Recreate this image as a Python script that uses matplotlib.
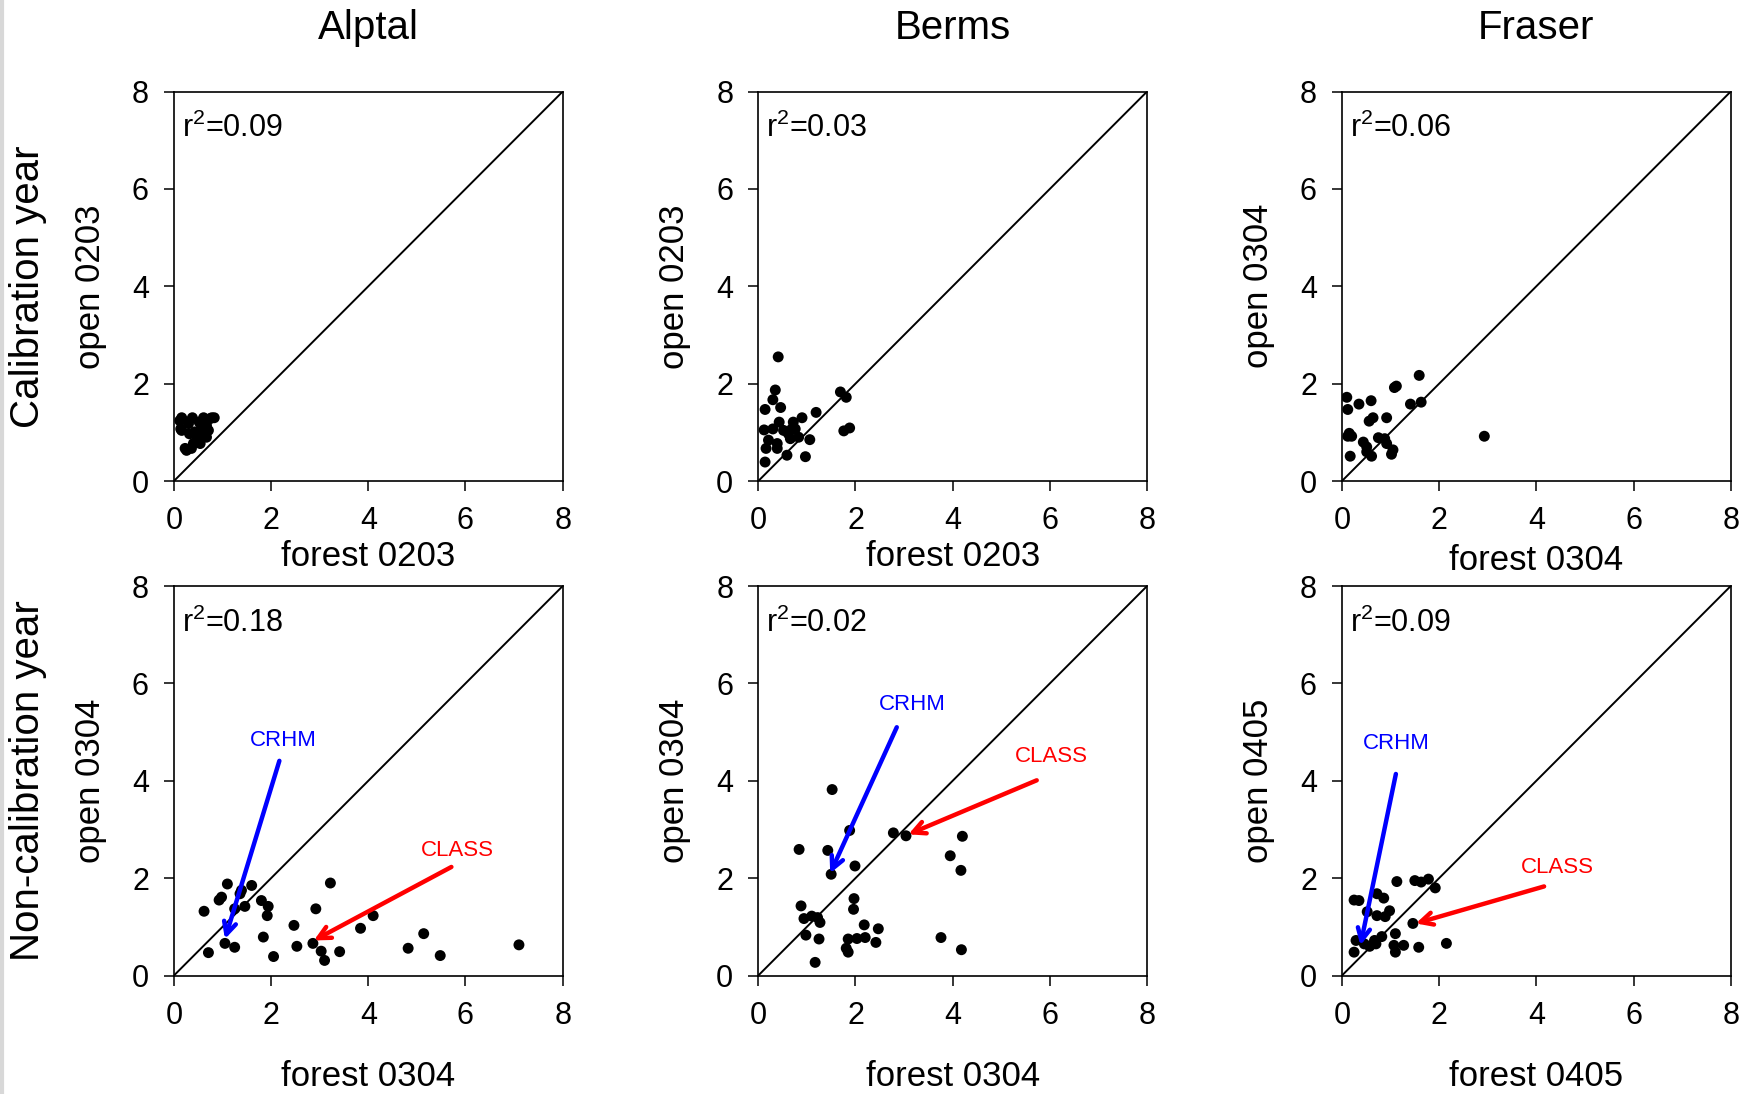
import matplotlib.pyplot as plt
from matplotlib.lines import Line2D

plt.rcParams['font.family'] = ['Liberation Sans', 'DejaVu Sans']
plt.rcParams['mathtext.default'] = 'regular'

sites = ["Alptal", "Berms", "Fraser"]
row_names = ["Calibration year", "Non-calibration year"]
ticks = [0, 2, 4, 6, 8]

# forest (x) / open (y) pairs, one list per panel
alp_cal_x = [0.16, 0.38, 0.61, 0.78, 0.16, 0.26, 0.36, 0.54, 0.67, 0.71, 0.43, 0.57,
             0.74, 0.83, 0.52, 0.30, 0.12, 0.14, 0.32, 0.47, 0.59, 0.40, 0.23, 0.67]
alp_cal_y = [1.30, 1.30, 1.30, 1.30, 1.04, 0.63, 0.67, 0.77, 0.90, 1.04, 1.01, 1.11,
             1.28, 1.30, 1.21, 1.18, 1.24, 1.07, 0.97, 0.87, 0.92, 0.77, 0.67, 1.14]

ber_cal_x = [0.41, 0.35, 0.30, 0.46, 0.14, 1.19, 1.69, 1.81, 1.76, 1.88, 0.12, 0.30,
             0.43, 0.72, 0.90, 0.62, 0.76, 0.83, 0.66, 1.06, 0.21, 0.39, 0.16, 0.39,
             0.59, 0.97, 0.14, 0.52, 0.69]
ber_cal_y = [2.55, 1.87, 1.67, 1.51, 1.47, 1.41, 1.83, 1.72, 1.03, 1.09, 1.05, 1.07,
             1.21, 1.21, 1.30, 0.97, 1.07, 0.90, 0.87, 0.85, 0.84, 0.77, 0.67, 0.67,
             0.53, 0.50, 0.39, 1.04, 1.07]

fra_cal_x = [1.59, 1.08, 1.12, 0.10, 0.35, 0.60, 0.12, 1.41, 1.63, 0.64, 0.56, 0.92,
             0.15, 0.20, 0.12, 2.93, 0.44, 0.75, 0.88, 0.92, 0.51, 1.05, 1.02, 0.61,
             0.17, 0.51]
fra_cal_y = [2.17, 1.92, 1.95, 1.72, 1.58, 1.65, 1.47, 1.58, 1.62, 1.30, 1.23, 1.30,
             0.98, 0.92, 0.92, 0.92, 0.80, 0.89, 0.87, 0.77, 0.70, 0.64, 0.55, 0.51,
             0.51, 0.60]

alp_non_x = [1.10, 1.60, 0.98, 0.93, 1.39, 1.36, 0.62, 1.25, 1.46, 1.80, 1.94, 1.92,
             3.22, 2.92, 4.10, 2.47, 3.84, 5.14, 1.84, 1.05, 1.25, 0.71, 2.53, 2.86,
             3.03, 3.10, 2.05, 3.41, 4.82, 5.48, 7.10]
alp_non_y = [1.88, 1.85, 1.61, 1.55, 1.75, 1.68, 1.32, 1.37, 1.42, 1.54, 1.42, 1.23,
             1.90, 1.37, 1.23, 1.03, 0.97, 0.86, 0.79, 0.66, 0.58, 0.47, 0.60, 0.66,
             0.50, 0.31, 0.39, 0.49, 0.56, 0.41, 0.63]

ber_non_x = [1.52, 1.88, 2.78, 3.04, 4.20, 0.84, 1.43, 3.95, 1.99, 4.17, 1.50, 1.97,
             1.96, 0.88, 0.94, 1.10, 1.22, 1.27, 2.18, 2.47, 0.98, 1.25, 1.85, 2.03,
             2.20, 2.42, 3.76, 1.81, 1.85, 4.18, 1.17]
ber_non_y = [3.82, 2.98, 2.93, 2.87, 2.86, 2.59, 2.57, 2.46, 2.25, 2.16, 2.08, 1.58,
             1.36, 1.43, 1.17, 1.22, 1.19, 1.09, 1.04, 0.96, 0.83, 0.75, 0.75, 0.76,
             0.78, 0.68, 0.78, 0.56, 0.48, 0.53, 0.27]

fra_non_x = [1.13, 1.50, 1.63, 1.78, 1.92, 0.25, 0.35, 0.72, 0.86, 0.52, 0.72, 0.89,
             0.98, 1.46, 1.10, 0.82, 0.29, 0.67, 0.57, 0.70, 1.07, 1.27, 1.10, 1.58,
             2.15, 0.25, 0.46]
fra_non_y = [1.93, 1.95, 1.92, 1.98, 1.80, 1.55, 1.54, 1.68, 1.59, 1.31, 1.23, 1.21,
             1.33, 1.07, 0.86, 0.80, 0.72, 0.72, 0.60, 0.65, 0.62, 0.62, 0.48, 0.58,
             0.66, 0.48, 0.65]

panel_x = [[alp_cal_x, ber_cal_x, fra_cal_x], [alp_non_x, ber_non_x, fra_non_x]]
panel_y = [[alp_cal_y, ber_cal_y, fra_cal_y], [alp_non_y, ber_non_y, fra_non_y]]
r2 = [["0.09", "0.03", "0.06"], ["0.18", "0.02", "0.09"]]
xlabels = [["forest 0203", "forest 0203", "forest 0304"],
           ["forest 0304", "forest 0304", "forest 0405"]]
ylabels = [["open 0203", "open 0203", "open 0304"],
           ["open 0304", "open 0304", "open 0405"]]

# model arrows on the lower row: (label pos, tail, tip)
crhm = [((2.26, 4.82), (2.17, 4.41), (1.05, 0.75)),
        ((3.16, 5.56), (2.85, 5.10), (1.48, 2.10)),
        ((1.11, 4.77), (1.11, 4.14), (0.38, 0.62))]
klass = [((5.84, 2.57), (5.71, 2.23), (2.88, 0.72)),
         ((6.04, 4.50), (5.73, 4.01), (3.09, 2.90)),
         ((4.43, 2.21), (4.16, 1.83), (1.52, 1.07))]

fig = plt.figure(figsize=(17.48, 10.94), dpi=100)

lefts = [0.0995, 0.4338, 0.7677]
bottoms = [0.5603, 0.1083]
w, h = 0.2224, 0.3560
xlab_off = [[-0.195, -0.195, -0.205], [-0.2585, -0.2585, -0.2585]]

for r in range(2):
    for c in range(3):
        ax = fig.add_axes([lefts[c], bottoms[r], w, h])
        ax.plot([0, 8], [0, 8], color='black', lw=1.4, zorder=2)
        ax.scatter(panel_x[r][c], panel_y[r][c], s=62, color='black',
                   edgecolors='none', zorder=3)
        ax.set_xlim(0, 8)
        ax.set_ylim(0, 8)
        ax.set_xticks(ticks)
        ax.set_yticks(ticks)
        ax.tick_params(direction='out', length=7, width=1.1, labelsize=22,
                       pad=11)
        for sp in ax.spines.values():
            sp.set_linewidth(1.2)
        ax.set_xlabel(xlabels[r][c], fontsize=25, va='center')
        ax.xaxis.set_label_coords(0.5, xlab_off[r][c])
        ax.set_ylabel(ylabels[r][c], fontsize=25, va='center')
        ax.yaxis.set_label_coords(-0.215, 0.5)
        ax.text(0.02, 0.905, "r$^2$=" + r2[r][c], transform=ax.transAxes,
                fontsize=22, va='center', ha='left')
        if r == 0:
            ax.text(0.5, 1.163, sites[c], transform=ax.transAxes,
                    fontsize=29, ha='center', va='center')
        if c == 0:
            fig.text(0.016, bottoms[r] + h / 2, row_names[r], rotation=90,
                     fontsize=29, ha='center', va='center')
        if r == 1:
            for (lab, tail, tip), name, col in [(crhm[c], "CRHM", '#0000ff'),
                                                (klass[c], "CLASS", '#ff0000')]:
                ax.annotate('', xy=tip, xytext=tail,
                            arrowprops=dict(arrowstyle='->', color=col, lw=3.2,
                                            mutation_scale=22,
                                            shrinkA=0, shrinkB=0),
                            zorder=4)
                ax.text(lab[0], lab[1], name, color=col, fontsize=16,
                        ha='center', va='center')

# faint grey strip on the left edge
fig.add_artist(Line2D([0.001, 0.001], [0, 1], color='#d8d8d8', lw=3,
                      transform=fig.transFigure))

fig.savefig('out.png', dpi=100)
